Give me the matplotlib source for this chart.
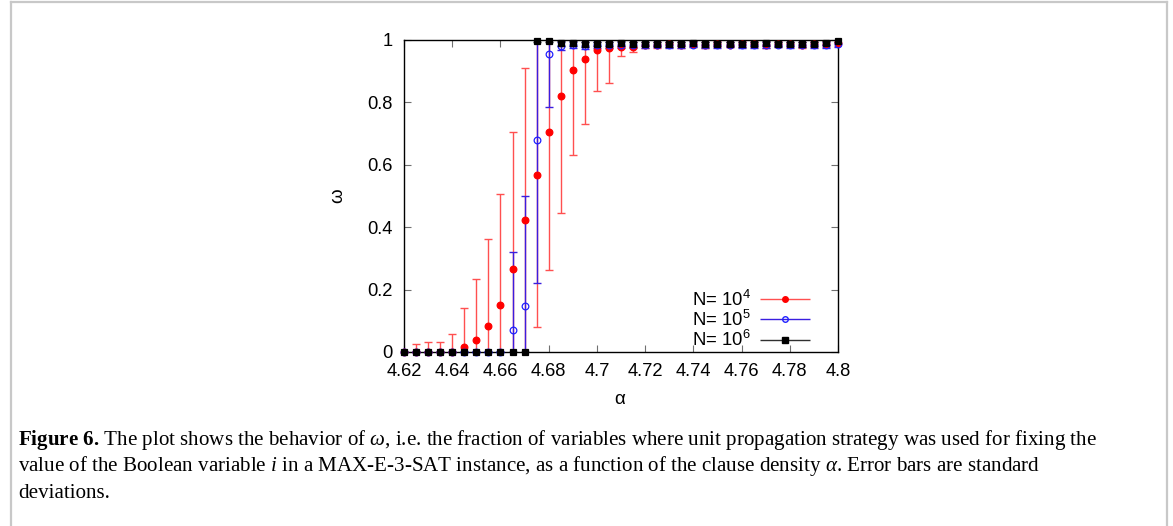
import matplotlib
matplotlib.use("Agg")
import matplotlib.pyplot as plt
from matplotlib.lines import Line2D
from matplotlib.legend_handler import HandlerErrorbar

plt.rcParams['font.family'] = ['Liberation Sans', 'DejaVu Sans']
plt.rcParams['mathtext.fontset'] = 'custom'
plt.rcParams['mathtext.rm'] = 'Liberation Serif'
plt.rcParams['mathtext.it'] = 'Liberation Serif:italic'
plt.rcParams['mathtext.bf'] = 'Liberation Serif:bold'

alpha = [4.62, 4.625, 4.63, 4.635, 4.64, 4.645, 4.65, 4.655, 4.66, 4.665,
         4.67, 4.675, 4.68, 4.685, 4.69, 4.695, 4.70, 4.705, 4.71, 4.715,
         4.72, 4.725, 4.73, 4.735, 4.74, 4.745, 4.75, 4.755, 4.76, 4.765,
         4.77, 4.775, 4.78, 4.785, 4.79, 4.795, 4.80]

omega_1e4 = [0, 0, 0, 0, 0, 0.016, 0.039, 0.084, 0.150, 0.266,
             0.423, 0.567, 0.706, 0.819, 0.905, 0.939, 0.968, 0.974, 0.978, 0.976,
             0.984, 0.985, 0.986, 0.985, 0.987, 0.984, 0.986, 0.985, 0.987, 0.986,
             0.985, 0.987, 0.986, 0.985, 0.987, 0.986, 0.990]
err_1e4 = [0, 0.025, 0.032, 0.032, 0.057, 0.126, 0.194, 0.277, 0.355, 0.438,
           0.487, 0.487, 0.443, 0.372, 0.273, 0.209, 0.133, 0.113, 0.030, 0.016,
           0.010, 0.010, 0.009, 0.010, 0.009, 0.010, 0.010, 0.009, 0.009, 0.010,
           0.010, 0.009, 0.009, 0.010, 0.009, 0.010, 0.008]

omega_1e5 = [0, 0, 0, 0, 0, 0, 0, 0, 0, 0.069,
             0.147, 0.681, 0.955, 0.980, 0.983, 0.982, 0.984, 0.983, 0.984, 0.983,
             0.984, 0.985, 0.984, 0.983, 0.985, 0.984, 0.983, 0.985, 0.984, 0.983,
             0.984, 0.985, 0.984, 0.985, 0.984, 0.983, 0.986]
err_1e5 = [0, 0, 0, 0, 0, 0, 0, 0, 0, 0.252,
           0.353, 0.459, 0.169, 0.012, 0.010, 0.010, 0.009, 0.010, 0.009, 0.010,
           0.009, 0.009, 0.010, 0.009, 0.009, 0.010, 0.009, 0.009, 0.010, 0.009,
           0.009, 0.009, 0.010, 0.009, 0.009, 0.010, 0.008]

omega_1e6 = [0, 0, 0, 0, 0, 0, 0, 0, 0, 0,
             0, 0.997, 0.997, 0.989, 0.989, 0.987, 0.988, 0.988, 0.989, 0.987,
             0.988, 0.988, 0.987, 0.988, 0.989, 0.987, 0.988, 0.988, 0.987, 0.988,
             0.989, 0.988, 0.988, 0.987, 0.988, 0.990, 0.998]
err_1e6 = [0, 0, 0, 0, 0, 0, 0, 0, 0, 0,
           0, 0.004, 0.004, 0.007, 0.007, 0.008, 0.007, 0.007, 0.007, 0.008,
           0.007, 0.007, 0.008, 0.007, 0.007, 0.008, 0.007, 0.007, 0.008, 0.007,
           0.007, 0.007, 0.007, 0.008, 0.007, 0.007, 0.004]

series = [
    (omega_1e4, err_1e4, r'N= $\mathregular{10^4}$', '#ff0000', '#ff5050', 'o', 'full'),
    (omega_1e5, err_1e5, r'N= $\mathregular{10^5}$', '#2020ff', '#3a1ee0', 'o', 'none'),
    (omega_1e6, err_1e6, r'N= $\mathregular{10^6}$', '#000000', '#303030', 's', 'full'),
]

xticks = [4.62, 4.64, 4.66, 4.68, 4.70, 4.72, 4.74, 4.76, 4.78, 4.80]
xticklabels = ['4.62', '4.64', '4.66', '4.68', '4.7', '4.72', '4.74', '4.76', '4.78', '4.8']
yticks = [0, 0.2, 0.4, 0.6, 0.8, 1]
yticklabels = ['0', '0.2', '0.4', '0.6', '0.8', '1']

W, H = 1173, 526
fig = plt.figure(figsize=(W / 100, H / 100), dpi=100)
ax = fig.add_axes([404 / W, 1 - 352 / H, (838 - 404) / W, (352 - 40) / H])

handles = []
for vals, errs, lab, mcol, ecol, mk, fill in series:
    ax.errorbar(alpha, vals, yerr=errs, fmt='none', ecolor=ecol,
                elinewidth=1.0, capsize=3, capthick=1.0, zorder=2)
    ax.plot(alpha, vals, linestyle='none', marker=mk, markersize=4.8 if mk == 'o' else 5.0,
            color=mcol, markerfacecolor=mcol if fill == 'full' else 'none',
            markeredgewidth=0.9, clip_on=False, zorder=3)
    h = ax.errorbar([], [], xerr=[], fmt=mk, color=mcol, ecolor=ecol,
                    markersize=4.0, markerfacecolor=mcol if fill == 'full' else 'none',
                    elinewidth=1.0, capsize=3, label=lab)
    handles.append(h)

ax.set_xlim(4.62, 4.80)
ax.set_ylim(0, 1)
ax.set_xticks(xticks)
ax.set_xticklabels(xticklabels)
ax.set_yticks(yticks)
ax.set_yticklabels(yticklabels)
ax.tick_params(direction='in', length=5, width=0.8, color='#707070',
               top=True, right=True, labelsize=13.2, pad=8)
for s in ax.spines.values():
    s.set_color('#000000')
    s.set_linewidth(1.0)

leg = ax.legend(handles=handles, loc='lower right', bbox_to_anchor=(0.965, -0.035),
                frameon=False, markerfirst=False, fontsize=13.3, labelspacing=0.0,
                handlelength=2.7, handletextpad=0.5, borderpad=0.2,
                handler_map={type(handles[0]): HandlerErrorbar(xerr_size=1.35, numpoints=1)})

fig.text(338 / W, 1 - 196 / H, 'ω', rotation=90, ha='center', va='center', fontsize=13.5)
fig.text(620 / W, 1 - 400 / H, 'α', ha='center', va='center', fontsize=13.5)

cap_lines = [
    r"$\mathbf{Figure\ 6.}\,$The plot shows the behavior of $\omega$, i.e. the fraction of variables where unit propagation strategy was used for fixing the",
    r"value of the Boolean variable $i$ in a MAX-E-3-SAT instance, as a function of the clause density $\alpha$. Error bars are standard",
    r"deviations.",
]
baselines = [445, 471, 498]
for line, yb in zip(cap_lines, baselines):
    fig.text(18 / W, 1 - yb / H, line, ha='left', va='baseline', fontsize=15.1,
             family='Liberation Serif')

border = '#c8c8c8'
fig.add_artist(Line2D([11 / W, 11 / W], [0, 1 - 2 / H], transform=fig.transFigure, color=border, lw=1.6))
fig.add_artist(Line2D([11 / W, 1167 / W], [1 - 2 / H, 1 - 2 / H], transform=fig.transFigure, color=border, lw=1.6))
fig.add_artist(Line2D([1167 / W, 1167 / W], [0, 1 - 2 / H], transform=fig.transFigure, color=border, lw=1.6))

fig.savefig('out.png', dpi=100)
